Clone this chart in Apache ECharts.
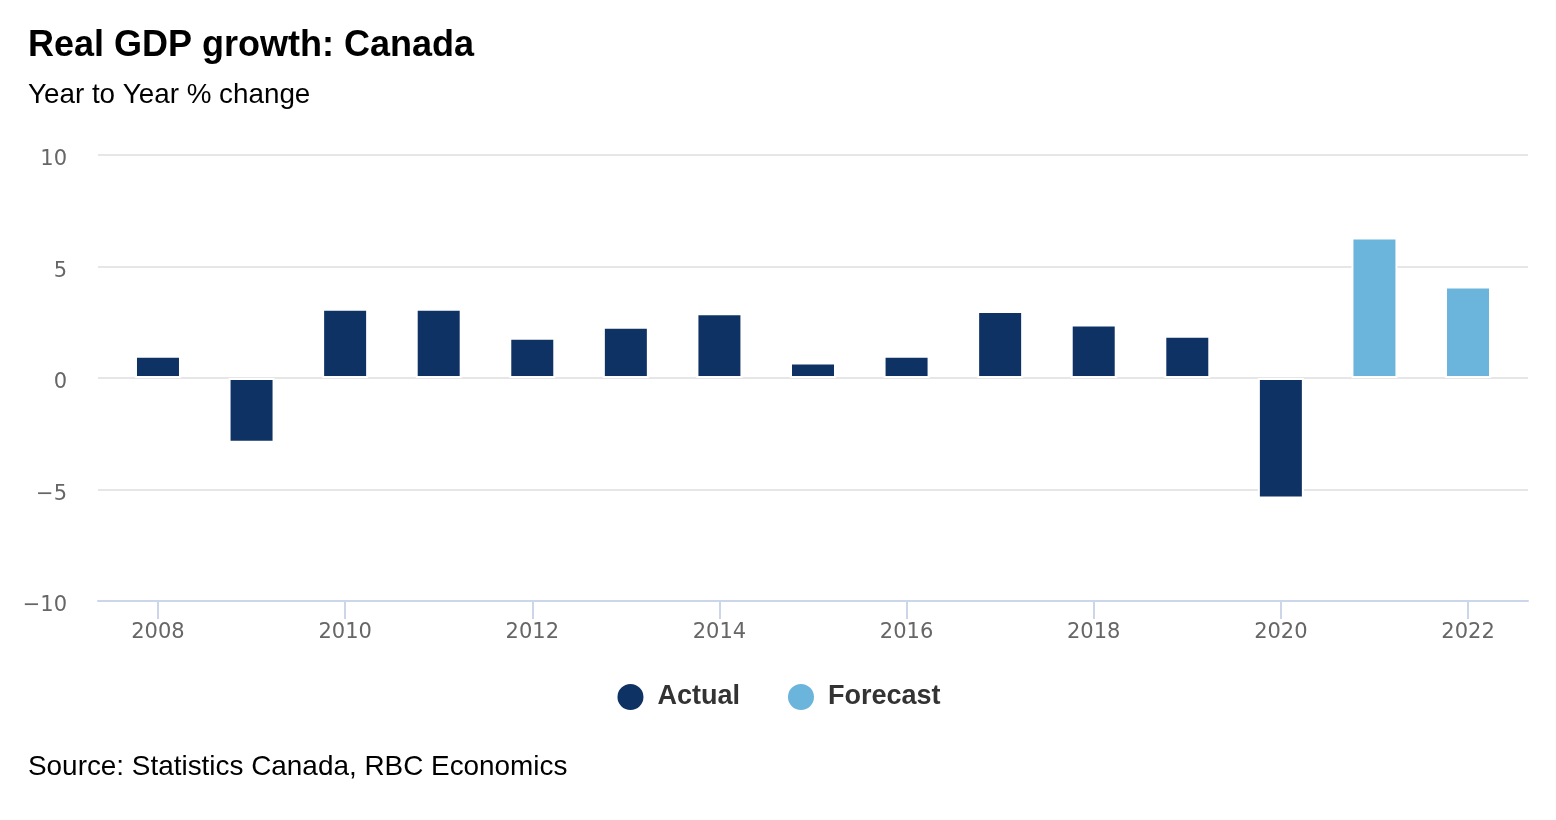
<!DOCTYPE html>
<html>
<head>
<meta charset="utf-8">
<script src="https://cdn.jsdelivr.net/npm/echarts@6/dist/echarts.min.js"></script>
<style>
html,body{margin:0;padding:0;background:#fff;}
#chart{width:1556px;height:820px;}
</style>
</head>
<body>
<div id="chart"></div>
<script>
// ---- data ----
const years = [2008, 2009, 2010, 2011, 2012, 2013, 2014, 2015, 2016, 2017, 2018, 2019, 2020, 2021, 2022];
const actualYears = [2008, 2009, 2010, 2011, 2012, 2013, 2014, 2015, 2016, 2017, 2018, 2019, 2020];
const actualValues = [1.0, -2.9, 3.1, 3.1, 1.8, 2.3, 2.9, 0.7, 1.0, 3.0, 2.4, 1.9, -5.4];
const forecastYears = [2021, 2022];
const forecastValues = [6.3, 4.1];
const xTickLabels = [2008, 2010, 2012, 2014, 2016, 2018, 2020, 2022];
const yTicks = [-10, -5, 0, 5, 10];

const chart = echarts.init(document.getElementById('chart'));
const axisFont = '"DejaVu Sans", Verdana, sans-serif';
const textFont = '"Liberation Sans", Arial, Helvetica, sans-serif';

chart.setOption({
  backgroundColor: '#ffffff',
  animation: false,
  title: [
    { text: 'Real GDP growth: Canada', left: 28, top: 28, padding: 0,
      textStyle: { fontFamily: textFont, fontSize: 36, fontWeight: 'bold', color: '#000000' } },
    { text: 'Year to Year % change', left: 28, top: 81, padding: 0,
      textStyle: { fontFamily: textFont, fontSize: 27.8, fontWeight: 'normal', color: '#000000' } },
    { text: 'Source: Statistics Canada, RBC Economics', left: 28, top: 753, padding: 0,
      textStyle: { fontFamily: textFont, fontSize: 27.9, fontWeight: 'normal', color: '#000000' } }
  ],
  legend: {
    left: 'center', top: 682, padding: 0,
    icon: 'circle', itemWidth: 28, itemHeight: 28, itemGap: 46,
    textStyle: { fontFamily: textFont, fontSize: 27, fontWeight: 'bold', color: '#333333', padding: [0, 0, 0, 8] },
    data: ['Actual', 'Forecast']
  },
  grid: { left: 98, right: 28, top: 155, bottom: 219, containLabel: false, outerBoundsMode: 'none' },
  xAxis: {
    type: 'value',
    min: 2007.359, max: 2022.641,
    splitLine: { show: false },
    axisLine: { show: true, onZero: false, lineStyle: { color: '#ccd6eb', width: 2 } },
    axisTick: { show: true, length: 18, customValues: xTickLabels, lineStyle: { color: '#ccd6eb', width: 2 } },
    axisLabel: { customValues: xTickLabels, margin: 21, color: '#666666', fontFamily: axisFont, fontSize: 21,
      formatter: v => String(Math.round(v)) }
  },
  yAxis: {
    type: 'value', min: -10, max: 10, interval: 5,
    axisLine: { show: false }, axisTick: { show: false },
    splitLine: { show: true, lineStyle: { color: '#e6e6e6', width: 2 } },
    axisLabel: { margin: 31, color: '#666666', fontFamily: axisFont, fontSize: 21,
      verticalAlign: 'top', lineHeight: 10,
      formatter: v => String(v).replace('-', '\u2212') }
  },
  series: [
    { name: 'Actual', type: 'bar', barWidth: 46, barGap: '-100%',
      itemStyle: { color: '#0f3264', borderColor: '#ffffff', borderWidth: 2 },
      data: actualYears.map((y, i) => [y, actualValues[i]]) },
    { name: 'Forecast', type: 'bar', barWidth: 46, barGap: '-100%',
      itemStyle: { color: '#6bb4db', borderColor: '#ffffff', borderWidth: 2 },
      data: forecastYears.map((y, i) => [y, forecastValues[i]]) }
  ]
});
</script>
</body>
</html>
